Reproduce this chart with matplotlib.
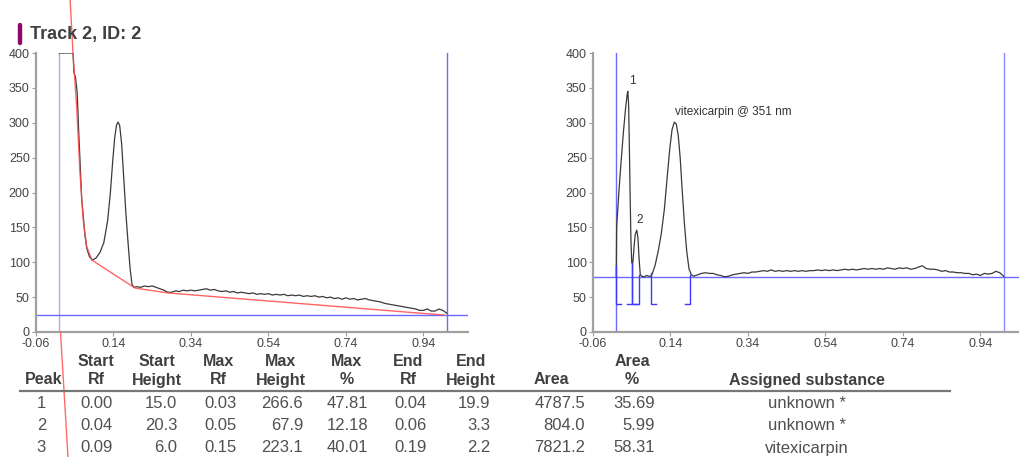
import numpy as np
import matplotlib.pyplot as plt
from matplotlib.lines import Line2D

plt.rcParams['font.family'] = ['Liberation Sans', 'DejaVu Sans']

W, H = 1019, 457

# ---- peak table ----
peaks = [1, 2, 3]
start_rf = [0.00, 0.04, 0.09]
start_height = [15.0, 20.3, 6.0]
max_rf = [0.03, 0.05, 0.15]
max_height = [266.6, 67.9, 223.1]
max_pct = [47.81, 12.18, 40.01]
end_rf = [0.04, 0.06, 0.19]
end_height = [19.9, 3.3, 2.2]
area = [4787.5, 804.0, 7821.2]
area_pct = [35.69, 5.99, 58.31]
substance = ['unknown *', 'unknown *', 'vitexicarpin']
peak_labels = ['1', '2', 'vitexicarpin @ 351 nm']

# ---- track settings ----
track_start = 0.0
track_end = 1.0
raw_level = 25
corr_level = 79
bracket_level = 40
xtick_vals = [-0.06, 0.14, 0.34, 0.54, 0.74, 0.94]
ytick_vals = [0, 50, 100, 150, 200, 250, 300, 350, 400]

# ---- raw densitogram (left) ----
raw_x_peak = [0.0, 0.0355, 0.038, 0.042, 0.046, 0.048, 0.050, 0.055, 0.058, 0.063,
              0.066, 0.071, 0.078, 0.085, 0.095, 0.105, 0.115, 0.125, 0.132, 0.138,
              0.143, 0.148, 0.152, 0.156, 0.161, 0.166, 0.172, 0.178, 0.183, 0.188,
              0.193]
raw_y_peak = [400, 400, 372, 365, 345, 320, 290, 228, 190, 160,
              140, 120, 108, 103, 106, 114, 128, 160, 200, 245,
              278, 297, 301, 296, 270, 225, 170, 125, 90, 68,
              64]
raw_y_tail = [65, 64, 66, 65, 66, 64, 62, 60, 57, 57,
              59, 58, 60, 59, 60, 59, 60, 61, 62, 60,
              61, 59, 58, 59, 57, 58, 56, 57, 56, 55,
              56, 54, 55, 54, 55, 53, 54, 53, 54, 52,
              53, 52, 53, 51, 52, 51, 52, 50, 51, 49,
              50, 48, 49, 47, 49, 47, 48, 46, 47, 48,
              46, 45, 44, 43, 41, 40, 39, 38, 37, 36,
              35, 34, 33, 31, 31, 33, 30, 30, 33, 31,
              27]
tail_x = np.round(np.arange(0.20, 1.0001, 0.01), 2)

# baseline fitted under the raw curve (red)
base_x = [0.0277, 0.0355, 0.045, 0.0535, 0.062, 0.071, 0.0845, 0.1955, 0.2806, 0.931, 0.993]
base_y = [480, 400, 322, 228, 160, 122, 103, 63, 56, 27, 24.4]
base_low_x = [0.0032, 0.0226]
base_low_y = [0, -180]

# ---- baseline corrected densitogram (right) ----
corr_x_peak = [0.0, 0.001, 0.005, 0.009, 0.014, 0.019, 0.024, 0.028, 0.030, 0.032,
               0.034, 0.036, 0.038, 0.040, 0.043, 0.046, 0.049, 0.053, 0.056, 0.059,
               0.062, 0.066, 0.072, 0.078, 0.084, 0.089, 0.092, 0.100, 0.108, 0.116,
               0.124, 0.132, 0.138, 0.144, 0.150, 0.155, 0.160, 0.165, 0.170, 0.176,
               0.182, 0.188, 0.194]
corr_y_peak = [79, 150, 185, 218, 255, 290, 320, 340, 345, 325,
               260, 190, 130, 99, 100, 122, 140, 146, 135, 105,
               82, 80, 79, 81, 80, 80, 82, 95, 115, 140,
               175, 225, 262, 290, 301, 298, 282, 250, 205, 155,
               115, 90, 82]
corr_y_tail = [80, 82, 84, 85, 84, 84, 82, 81, 79, 80,
               82, 83, 84, 85, 84, 86, 86, 87, 88, 87,
               89, 87, 88, 87, 88, 87, 88, 87, 88, 87,
               88, 88, 89, 88, 89, 88, 89, 88, 89, 90,
               89, 90, 89, 90, 91, 90, 91, 90, 91, 90,
               92, 91, 90, 92, 91, 92, 90, 91, 93, 95,
               91, 90, 90, 89, 87, 88, 86, 86, 85, 85,
               84, 84, 82, 83, 81, 84, 83, 84, 87, 85,
               80]

grey = '#444444'
blue = '#6a6aff'

fig = plt.figure(figsize=(W / 100, H / 100), dpi=100)


def style_axes(ax):
    ax.set_xlim(-0.06, 1.055)
    ax.set_ylim(0, 400)
    ax.set_xticks(xtick_vals)
    ax.set_xticklabels(['%.2f' % v for v in xtick_vals])
    ax.set_yticks(ytick_vals)
    for s in ['top', 'right']:
        ax.spines[s].set_visible(False)
    for s in ['left', 'bottom']:
        ax.spines[s].set_color('#a0a0a0')
        ax.spines[s].set_linewidth(1.6)
    ax.tick_params(length=3, width=0.8, color='#a0a0a0', labelsize=9,
                   labelcolor=grey, pad=1.5)


# left panel: raw track with fitted baseline
ax1 = fig.add_axes([36 / W, 1 - 332 / H, 432 / W, 279 / H])
style_axes(ax1)
ax1.axvline(track_start, color='#a8a8ff', lw=1)
ax1.axvline(track_end, color=blue, lw=1)
ax1.axhline(raw_level, color=blue, lw=1)
ax1.plot(list(raw_x_peak) + list(tail_x), raw_y_peak + raw_y_tail, color='#3a3a3a', lw=0.9)
ax1.plot(base_x, base_y, color='#ff4a4a', lw=1, alpha=0.85, clip_on=False, zorder=5)
ax1.plot(base_low_x, base_low_y, color='#ff6a6a', lw=1, clip_on=False, zorder=5)

# right panel: baseline corrected with integration brackets
ax2 = fig.add_axes([593 / W, 1 - 332 / H, 432 / W, 279 / H])
style_axes(ax2)
ax2.axvline(track_start, color=blue, lw=1)
ax2.axvline(track_end, color='#8a8aff', lw=1)
ax2.axhline(corr_level, color=blue, lw=1)
ax2.plot(list(corr_x_peak) + list(tail_x), corr_y_peak + corr_y_tail, color='#3a3a3a', lw=0.9)
bw = 0.013
for i in range(len(peaks)):
    ax2.plot([start_rf[i] + bw, start_rf[i], start_rf[i]],
             [bracket_level, bracket_level, corr_level + start_height[i]],
             color='#3b3bff', lw=1)
    ax2.plot([end_rf[i] - bw, end_rf[i], end_rf[i]],
             [bracket_level, bracket_level, corr_level + end_height[i]],
             color='#3b3bff', lw=1)
    ax2.text(max_rf[i] + 0.002, corr_level + max_height[i] + 5, peak_labels[i],
             fontsize=8.5, color='#333333', ha='left', va='bottom')

# title with marker bar
fig.add_artist(Line2D([19.5 / W, 19.5 / W], [1 - 25 / H, 1 - 43 / H],
                      color='#8a0b6a', lw=3.2, solid_capstyle='round'))
fig.text(30 / W, 1 - 34 / H, 'Track 2, ID: 2', fontsize=13, fontweight='bold',
         color='#404040', ha='left', va='center')

# peak table
head1 = ['', 'Start', 'Start', 'Max', 'Max', 'Max', 'End', 'End', '', 'Area', '']
head2 = ['Peak', 'Rf', 'Height', 'Rf', 'Height', '%', 'Rf', 'Height', 'Area', '%',
         'Assigned substance']
head_x = [44, 96, 157, 218, 281, 347, 408, 471, 551, 632, 807]
for hx, h1, h2 in zip(head_x, head1, head2):
    fig.text(hx / W, 1 - 362 / H, h1, fontsize=11.5, fontweight='bold', color='#404040',
             ha='center', va='center')
    fig.text(hx / W, 1 - 380 / H, h2, fontsize=11.5, fontweight='bold', color='#404040',
             ha='center', va='center')
fig.add_artist(Line2D([20 / W, 950 / W], [1 - 391 / H, 1 - 391 / H], color='#777777', lw=1.6))

row_y = [403, 425, 448]
val_right = [46, 113, 177, 237, 303, 368, 427, 490, 585, 655]
for r in range(len(peaks)):
    cells = [str(peaks[r]), '%.2f' % start_rf[r], '%.1f' % start_height[r], '%.2f' % max_rf[r],
             '%.1f' % max_height[r], '%.2f' % max_pct[r], '%.2f' % end_rf[r],
             '%.1f' % end_height[r], '%.1f' % area[r], '%.2f' % area_pct[r]]
    for vx, c in zip(val_right, cells):
        fig.text(vx / W, 1 - row_y[r] / H, c, fontsize=12, color='#505050',
                 ha='right', va='center')
    fig.text(807 / W, 1 - row_y[r] / H, substance[r], fontsize=12, color='#505050',
             ha='center', va='center')

fig.savefig('out.png', dpi=100)
